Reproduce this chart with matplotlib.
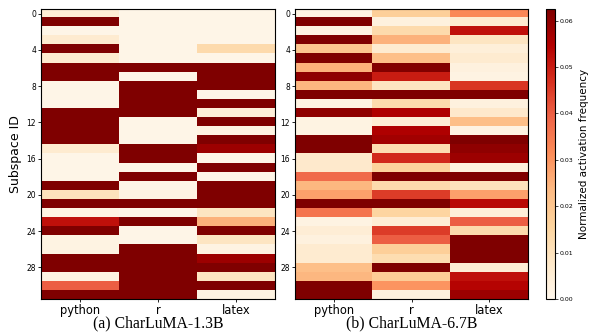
import numpy as np
import matplotlib
matplotlib.use('Agg')
import matplotlib.pyplot as plt

langs = ["python", "r", "latex"]
rows = np.arange(32)

# model (a) CharLuMA-1.3B, one list per column, 32 subspaces each
small_python = [0.005, 0.0625, 0.001, 0.006, 0.0625, 0.006, 0.0625, 0.0625,
                0.001, 0.001, 0.001, 0.0625, 0.0625, 0.0625, 0.0625, 0.006,
                0.001, 0.001, 0.001, 0.0625, 0.010, 0.0625, 0.002, 0.052,
                0.0625, 0.002, 0.002, 0.0625, 0.0625, 0.002, 0.040, 0.0625]
small_r = [0.001, 0.001, 0.001, 0.001, 0.001, 0.001, 0.0625, 0.001,
           0.0625, 0.0625, 0.0625, 0.0625, 0.001, 0.001, 0.001, 0.0625,
           0.0625, 0.001, 0.0625, 0.001, 0.002, 0.0625, 0.001, 0.0625,
           0.001, 0.001, 0.0625, 0.0625, 0.0625, 0.0625, 0.0625, 0.0625]
small_latex = [0.001, 0.001, 0.001, 0.001, 0.013, 0.001, 0.0625, 0.0625,
               0.0625, 0.001, 0.0625, 0.004, 0.0625, 0.002, 0.0625, 0.058,
               0.001, 0.0625, 0.001, 0.0625, 0.0625, 0.0625, 0.009, 0.025,
               0.0625, 0.009, 0.002, 0.058, 0.0625, 0.009, 0.0625, 0.002]

# model (b) CharLuMA-6.7B
big_python = [0.002, 0.0625, 0.002, 0.0625, 0.020, 0.0625, 0.025, 0.060,
              0.024, 0.0625, 0.002, 0.060, 0.002, 0.002, 0.0625, 0.0625,
              0.007, 0.007, 0.038, 0.024, 0.028, 0.0625, 0.036, 0.002,
              0.005, 0.003, 0.006, 0.006, 0.022, 0.024, 0.0625, 0.0625]
big_r = [0.017, 0.003, 0.013, 0.025, 0.006, 0.022, 0.062, 0.050,
         0.009, 0.0625, 0.013, 0.055, 0.005, 0.055, 0.057, 0.012,
         0.048, 0.016, 0.0625, 0.013, 0.045, 0.0625, 0.015, 0.005,
         0.045, 0.040, 0.017, 0.012, 0.0625, 0.018, 0.030, 0.003]
big_latex = [0.032, 0.006, 0.052, 0.009, 0.004, 0.006, 0.003, 0.002,
             0.046, 0.0625, 0.003, 0.007, 0.022, 0.002, 0.0625, 0.060,
             0.058, 0.003, 0.0625, 0.010, 0.028, 0.053, 0.004, 0.040,
             0.013, 0.0625, 0.0625, 0.0625, 0.005, 0.052, 0.054, 0.058]

panels = [
    ("(a) CharLuMA-1.3B", np.column_stack([small_python, small_r, small_latex])),
    ("(b) CharLuMA-6.7B", np.column_stack([big_python, big_r, big_latex])),
]

W, H = 594, 336
fig = plt.figure(figsize=(W / 100, H / 100), dpi=100)

boxes = [(41, 9, 234, 290), (295, 9, 233, 290)]
vmax = 0.0625
for i, ((caption, data), (x0, y0, w, h)) in enumerate(zip(panels, boxes)):
    ax = fig.add_axes([x0 / W, 1 - (y0 + h) / H, w / W, h / H])
    im = ax.imshow(data, cmap='OrRd', vmin=0, vmax=vmax, aspect='auto',
                   interpolation='nearest')
    ax.set_xticks(range(len(langs)))
    ax.set_xticklabels(langs, fontsize=8.3)
    ax.set_yticks(rows[::4])
    ax.set_yticklabels([str(r) for r in rows[::4]], fontsize=5.5)
    ax.tick_params(axis='both', length=2, width=0.6, pad=1.5)
    ax.tick_params(axis='x', pad=1.5)
    for s in ax.spines.values():
        s.set_linewidth(0.8)
    if i == 0:
        ax.set_ylabel("Subspace ID", fontsize=9, labelpad=3)
    ax.text(0.5, -0.058, caption, transform=ax.transAxes, ha='center', va='top',
            fontsize=11.3, family='Liberation Serif')

cax = fig.add_axes([546 / W, 1 - 299 / H, 9 / W, 290 / H])
cb = fig.colorbar(im, cax=cax, ticks=[0, 0.01, 0.02, 0.03, 0.04, 0.05, 0.06])
cb.ax.set_yticklabels(["0.00", "0.01", "0.02", "0.03", "0.04", "0.05", "0.06"])
cb.ax.tick_params(labelsize=4.5, length=2, width=0.5, pad=1.5)
cb.outline.set_linewidth(0.8)
cb.set_label("Normalized activation frequency", fontsize=7.5, labelpad=4)

fig.savefig("out.png", dpi=100)
